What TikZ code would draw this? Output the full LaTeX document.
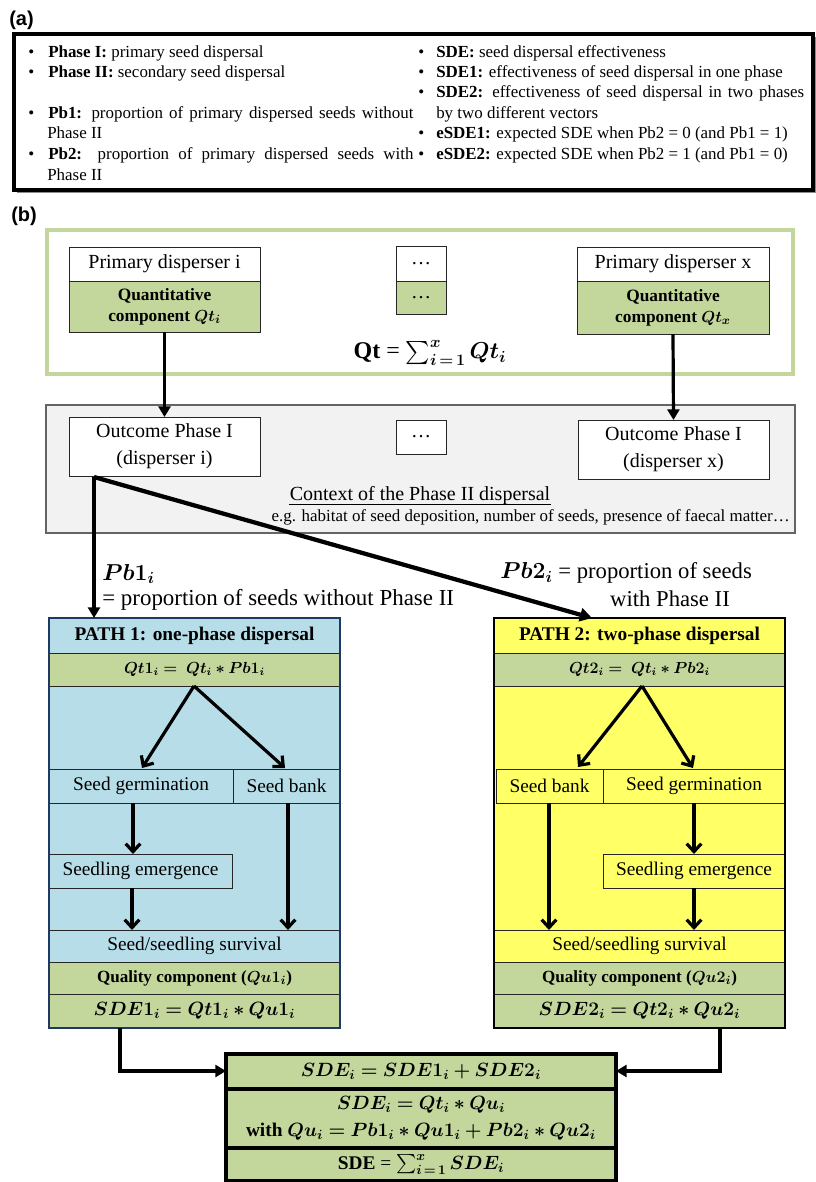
\documentclass[tikz,border=0pt]{standalone}
\usepackage{fontspec}
\setmainfont{Liberation Serif}
\newfontfamily\arialfont{Liberation Sans}
\usepackage{amsmath,bm}
\usetikzlibrary{arrows.meta}
\definecolor{qgreen}{RGB}{195,214,155}
\definecolor{pblue}{RGB}{183,222,232}
\definecolor{pyellow}{RGB}{255,255,102}
\definecolor{cgray}{RGB}{242,242,242}
\definecolor{bordgray}{RGB}{100,100,100}
\definecolor{navy}{RGB}{31,56,100}
\newcommand\bx[7]{%
  \pgfmathsetmacro\bxw{(#5-#3)*0.75}%
  \pgfmathsetmacro\bxh{(#6-#4)*0.75}%
  \node[#2,minimum width=\bxw pt,minimum height=\bxh pt,inner sep=0pt,outer sep=0pt] (#1) at ({(#3+#5)/2},{(#4+#6)/2}) {#7};}
\tikzset{
  leg/.style={font=\fontsize{12.7}{15}\selectfont,inner sep=0pt,anchor=base west},
  wbox/.style={draw=black!85,line width=0.7pt,fill=white,align=center,font=\fontsize{15}{20}\selectfont},
  gbox/.style={draw=black!85,line width=0.7pt,fill=qgreen,align=center},
  bbox/.style={draw=black!85,line width=0.7pt,fill=pblue,align=center,font=\fontsize{14.5}{17}\selectfont},
  ybox/.style={draw=black!85,line width=0.7pt,fill=pyellow,align=center,font=\fontsize{14.5}{17}\selectfont},
  sdebox/.style={draw=black,line width=2.5pt,fill=qgreen,align=center,font=\fontsize{14.5}{20}\selectfont},
  tarr/.style={line width=2.4pt,-{Triangle[length=8pt,width=9pt]}},
  varr/.style={line width=2.4pt,-{Straight Barb[length=6pt,width=11pt]}},
}
\begin{document}
\begin{tikzpicture}[x=0.75pt,y=-0.75pt]
\useasboundingbox[fill=white] (0,0) rectangle (816,1182);

% ---------------- (a) legend ----------------
\node[font=\arialfont\bfseries\fontsize{15}{18}\selectfont,anchor=west,inner sep=0pt] (lab_a) at (9,20) {(a)};
\fill[black!45] (17,37) rectangle (816,193);
\bx{legbox}{draw=black,line width=2.3pt,fill=white}{14}{34}{813}{190}{}

\node[leg] (b1) at (28,57) {•};
\node[leg] (t1) at (48,57) {\textbf{Phase I:} primary seed dispersal};
\node[leg] (b2) at (28,77) {•};
\node[leg] (t2) at (48,77) {\textbf{Phase II:} secondary seed dispersal};
\node[leg] (b3) at (28,118) {•};
\node[leg] (t3) at (48,118) {\makebox[274pt][s]{\textbf{Pb1:} proportion of primary dispersed seeds without}};
\node[leg] (t3b) at (47,138) {Phase II};
\node[leg] (b4) at (28,159) {•};
\node[leg] (t4) at (48,159) {\makebox[274pt][s]{\textbf{Pb2:} proportion of primary dispersed seeds with}};
\node[leg] (t4b) at (47,180) {Phase II};

\node[leg] (b5) at (418,57) {•};
\node[leg] (t5) at (436,57) {\textbf{SDE:} seed dispersal effectiveness};
\node[leg] (b6) at (418,77) {•};
\node[leg] (t6) at (436,77) {\textbf{SDE1:} effectiveness of seed dispersal in one phase};
\node[leg] (b7) at (418,97) {•};
\node[leg] (t7) at (436,97) {\makebox[276pt][s]{\textbf{SDE2:} effectiveness of seed dispersal in two phases}};
\node[leg] (t7b) at (436,118) {by two different vectors};
\node[leg] (b8) at (418,138) {•};
\node[leg] (t8) at (436,138) {\textbf{eSDE1:} expected SDE when Pb2 = 0 (and Pb1 = 1)};
\node[leg] (b9) at (418,159) {•};
\node[leg] (t9) at (436,159) {\textbf{eSDE2:} expected SDE when Pb2 = 1 (and Pb1 = 0)};

% ---------------- (b) ----------------
\node[font=\arialfont\bfseries\fontsize{15}{18}\selectfont,anchor=west,inner sep=0pt] (lab_b) at (11,216) {(b)};

% top green frame
\bx{topframe}{draw=qgreen,line width=3.5pt,fill=white}{47}{230}{793}{374}{}
\bx{pdi}{wbox}{69}{247}{260}{281}{Primary disperser i}
\bx{qti}{gbox,font=\bfseries\fontsize{13}{15.5}\selectfont}{69}{281}{260}{332}{Quantitative\\component $\bm{Qt_i}$}
\bx{pdd}{wbox}{396}{246}{446}{281}{…}
\bx{qtd}{gbox,font=\fontsize{15}{18}\selectfont}{396}{281}{446}{314}{…}
\bx{pdx}{wbox}{577}{247}{769}{281}{Primary disperser x}
\bx{qtx}{gbox,font=\bfseries\fontsize{13}{15.5}\selectfont}{577}{281}{769}{334}{Quantitative\\component $\bm{Qt_x}$}
\node[font=\fontsize{18}{22}\selectfont,inner sep=0pt] (qtsum) at (430,353) {\textbf{Qt} = $\textstyle\sum_{\bm{i\,=\,1}}^{\bm{x}}\bm{Qt_i}$};

% gray context box
\bx{ctx}{draw=bordgray,line width=0.8pt,fill=cgray}{46}{405}{795}{533}{}
\bx{outi}{wbox,font=\fontsize{15}{20}\selectfont}{69}{417}{260}{476}{Outcome Phase I\\(disperser i)}
\bx{outd}{wbox}{396}{420}{446}{454}{…}
\bx{outx}{wbox,font=\fontsize{15}{20}\selectfont}{578}{420}{769}{479}{Outcome Phase I\\(disperser x)}
\node[font=\fontsize{15}{18}\selectfont,inner sep=0pt] (ctxt) at (420,496) {Context of the Phase II dispersal};
\draw[line width=0.6pt] ([yshift=-2.5pt]ctxt.base west) -- ([yshift=-2.5pt]ctxt.base east);
\node[font=\fontsize{12.7}{15}\selectfont,inner sep=0pt,anchor=east] (ctxe) at (790,517) {e.g. habitat of seed deposition, number of seeds, presence of faecal matter…};

\draw[tarr] (qti.south) -- (outi.north);
\draw[tarr] (qtx.south) -- (outx.north);

% ---------------- paths ----------------
\bx{p1}{fill=pblue}{49}{618}{340}{1028}{}
\bx{p1t}{bbox,font=\bfseries\fontsize{14.5}{17}\selectfont}{49}{618}{340}{653}{PATH 1: one-phase dispersal}
\bx{p1q}{gbox,font=\fontsize{12}{15}\selectfont}{49}{653}{340}{686}{$\bm{Qt1_i = \;Qt_i * Pb1_i}$}
\bx{p1g}{bbox}{49}{769}{233}{803}{Seed germination}
\bx{p1b}{bbox}{233}{769}{340}{803}{Seed bank}
\bx{p1e}{bbox}{49}{854}{232}{888}{Seedling emergence}
\bx{p1s}{bbox}{49}{930}{340}{962}{Seed/seedling survival}
\bx{p1u}{gbox,font=\bfseries\fontsize{12.8}{15}\selectfont}{49}{962}{340}{994}{Quality component ($\bm{Qu1_i}$)}
\bx{p1d}{gbox,font=\fontsize{14}{17}\selectfont}{49}{994}{340}{1028}{$\bm{SDE1_i = Qt1_i * Qu1_i}$}
\draw[navy,line width=1.6pt] (p1.north west) rectangle (p1.south east);

\coordinate (p1apex) at (194,686);
\draw[varr] (p1apex) -- (142,768);
\draw[varr] (p1apex) -- (285,768);
\draw[varr] (p1g.south -| 133,0) -- (p1e.north -| 133,0);
\draw[varr] (p1e.south -| 132,0) -- (p1s.north -| 132,0);
\draw[varr] (p1b.south -| 288,0) -- (p1s.north -| 288,0);

\bx{p2}{fill=pyellow}{494}{618}{785}{1028}{}
\bx{p2t}{ybox,font=\bfseries\fontsize{14.5}{17}\selectfont}{494}{618}{785}{653}{PATH 2: two-phase dispersal}
\bx{p2q}{gbox,font=\fontsize{12}{15}\selectfont}{494}{653}{785}{686}{$\bm{Qt2_i = \;Qt_i * Pb2_i}$}
\bx{p2b}{ybox}{496}{769}{603}{803}{Seed bank}
\bx{p2g}{ybox}{603}{769}{785}{803}{Seed germination}
\bx{p2e}{ybox}{603}{854}{785}{888}{Seedling emergence}
\bx{p2s}{ybox}{494}{930}{785}{962}{Seed/seedling survival}
\bx{p2u}{gbox,font=\bfseries\fontsize{12.8}{15}\selectfont}{494}{962}{785}{994}{Quality component ($\bm{Qu2_i}$)}
\bx{p2d}{gbox,font=\fontsize{14}{17}\selectfont}{494}{994}{785}{1028}{$\bm{SDE2_i = Qt2_i * Qu2_i}$}
\draw[black,line width=1.8pt] (p2.north west) rectangle (p2.south east);

\coordinate (p2apex) at (642,686);
\draw[varr] (p2apex) -- (578,767);
\draw[varr] (p2apex) -- (693,768);
\draw[varr] (p2g.south -| 694,0) -- (p2e.north -| 694,0);
\draw[varr] (p2e.south -| 694,0) -- (p2s.north -| 694,0);
\draw[varr] (p2b.south -| 549,0) -- (p2s.north -| 549,0);

% Pb arrows and labels
\coordinate (split) at (94,477);
\draw[line width=2.6pt,-{Triangle[length=8pt,width=9pt]}] (split) -- (p1.north -| 94,0);
\draw[line width=3.2pt,-{Triangle[length=9pt,width=10pt]}] (split) -- (592,618);
\node[font=\fontsize{18}{22}\selectfont,inner sep=0pt,anchor=west] (pb1) at (102,574) {$\bm{Pb1_i}$};
\node[font=\fontsize{17.2}{21}\selectfont,inner sep=0pt,anchor=west] (pb1t) at (102,600) {= proportion of seeds without Phase II};
\node[font=\fontsize{17}{21}\selectfont,inner sep=0pt,anchor=west] (pb2) at (500,573) {$\bm{Pb2_i}$ = proportion of seeds};
\node[font=\fontsize{17}{21}\selectfont,inner sep=0pt] (pb2t) at (670,599) {with Phase II};

% ---------------- bottom box ----------------
\bx{s1}{sdebox}{226}{1054}{616}{1089}{$\bm{SDE_i = SDE1_i + SDE2_i}$}
\bx{s2}{sdebox}{226}{1089}{616}{1148}{$\bm{SDE_i = Qt_i * Qu_i}$\\\textbf{with} $\bm{Qu_i = Pb1_i * Qu1_i + Pb2_i * Qu2_i}$}
\bx{s3}{sdebox}{226}{1148}{616}{1181}{\textbf{SDE} = $\textstyle\sum_{\bm{i\,=\,1}}^{\bm{x}}\bm{SDE_i}$}

\draw[line width=2.5pt,-{Triangle[length=8pt,width=9pt]}] (p1d.south -| 120,0) |- (s1.west |- 0,1071);
\draw[line width=2.5pt,-{Triangle[length=8pt,width=9pt]}] (p2d.south -| 720,0) |- (s1.east |- 0,1071);
\end{tikzpicture}
\end{document}
